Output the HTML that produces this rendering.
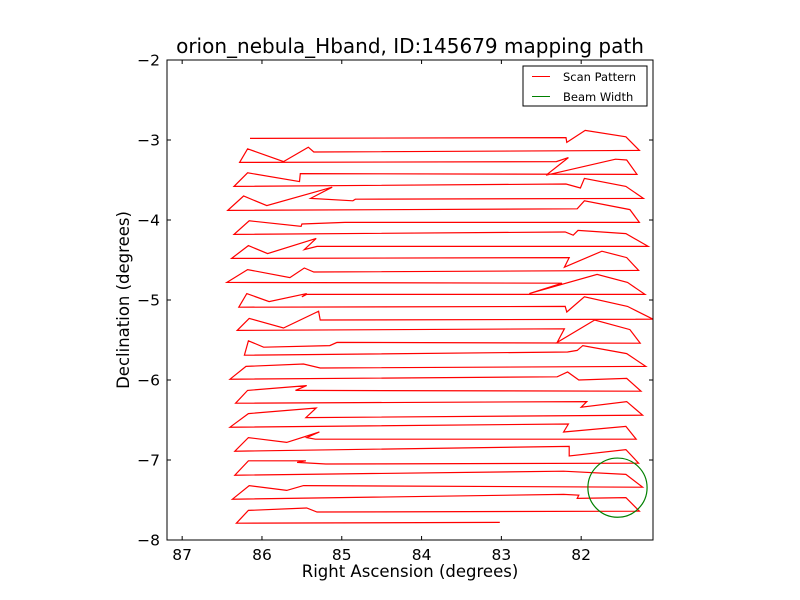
<!DOCTYPE html>
<html><head><meta charset="utf-8"><style>
body{margin:0;background:#fff}
svg{display:block;font-family:"DejaVu Sans","Liberation Sans",sans-serif}
</style></head><body>
<svg id="chart" width="800" height="600" xmlns="http://www.w3.org/2000/svg">
<rect width="800" height="600" fill="#fff"/>
<text x="410" y="53" text-anchor="middle" font-size="20">orion_nebula_Hband, ID:145679 mapping path</text>
<g id="plot"></g>
<rect x="167" y="60" width="486" height="480" fill="none" stroke="#000" stroke-width="1"/>
<text x="410" y="577" text-anchor="middle" font-size="16.5">Right Ascension (degrees)</text>
<text transform="translate(129,300) rotate(-90)" text-anchor="middle" font-size="16.5">Declination (degrees)</text>
<g>
<rect x="523" y="66" width="124" height="40" fill="#fff" stroke="#000" stroke-width="1"/>
<line x1="532" y1="76.5" x2="550" y2="76.5" stroke="red"/>
<text x="563" y="81" font-size="11.5">Scan Pattern</text>
<line x1="532" y1="96.5" x2="550" y2="96.5" stroke="green"/>
<text x="563" y="101" font-size="11.5">Beam Width</text>
</g>
</svg>
<script>
const xTicks = [87, 86, 85, 84, 83, 82];
const yTicks = [-2, -3, -4, -5, -6, -7, -8];
const pathRA = [86.15,82.19,82.18,81.95,81.44,81.27,85.35,85.42,85.73,86.18,86.28,82.31,82.16,82.44,81.57,81.43,81.30,85.52,85.53,86.18,
86.35,82.19,82.01,81.96,81.44,81.22,84.83,84.86,85.39,85.12,85.94,86.23,86.43,82.05,81.96,81.39,81.27,84.96,85.50,85.51,
86.16,86.35,82.20,82.10,82.04,81.44,81.16,85.31,85.47,85.32,85.93,86.17,86.38,82.15,82.21,81.74,81.43,81.28,85.35,85.47,
85.65,86.18,86.44,82.24,82.65,81.80,81.42,81.20,85.44,85.50,85.44,85.91,86.19,86.29,82.20,82.18,81.96,81.42,81.10,85.27,
85.29,85.73,86.16,86.31,82.21,82.30,81.83,81.39,81.26,85.06,85.15,85.98,86.17,86.22,82.17,82.05,81.98,81.43,81.19,85.27,
85.48,86.20,86.40,82.30,82.17,82.03,81.43,81.25,85.58,85.44,86.18,86.33,81.93,82.00,81.43,81.23,85.45,85.32,86.17,86.40,
82.16,82.22,81.44,81.31,85.33,85.44,85.28,85.69,86.17,86.34,82.15,82.15,81.44,81.28,85.20,85.56,85.45,86.17,86.34,82.22,
81.44,81.23,85.48,85.69,86.16,86.37,82.22,82.03,82.05,81.44,81.27,85.31,85.44,86.17,86.32,83.02];
const pathDec = [-2.98,-2.97,-3.03,-2.88,-2.96,-3.13,-3.15,-3.09,-3.27,-3.11,-3.28,-3.27,-3.22,-3.44,-3.24,-3.25,-3.43,-3.42,-3.52,-3.41,
-3.58,-3.55,-3.60,-3.48,-3.58,-3.73,-3.74,-3.76,-3.73,-3.59,-3.82,-3.70,-3.88,-3.86,-3.76,-3.87,-4.03,-4.03,-4.05,-4.08,
-4.01,-4.18,-4.15,-4.19,-4.13,-4.17,-4.33,-4.33,-4.37,-4.23,-4.42,-4.32,-4.48,-4.47,-4.59,-4.39,-4.47,-4.63,-4.65,-4.60,
-4.72,-4.62,-4.78,-4.79,-4.92,-4.68,-4.78,-4.93,-4.93,-4.96,-4.92,-5.02,-4.92,-5.09,-5.08,-5.15,-4.96,-5.08,-5.24,-5.25,
-5.14,-5.35,-5.23,-5.38,-5.36,-5.53,-5.25,-5.37,-5.54,-5.53,-5.57,-5.59,-5.51,-5.69,-5.65,-5.63,-5.57,-5.67,-5.83,-5.85,
-5.80,-5.83,-5.99,-5.96,-5.90,-6.00,-5.98,-6.14,-6.13,-6.07,-6.13,-6.29,-6.27,-6.34,-6.27,-6.44,-6.47,-6.35,-6.42,-6.59,
-6.55,-6.65,-6.58,-6.74,-6.74,-6.72,-6.65,-6.78,-6.72,-6.89,-6.83,-6.95,-6.87,-7.04,-7.05,-7.03,-7.01,-7.01,-7.19,-7.14,
-7.18,-7.34,-7.32,-7.38,-7.32,-7.49,-7.43,-7.44,-7.48,-7.47,-7.64,-7.65,-7.60,-7.63,-7.79,-7.78];
const beamRA = [81.545];
const beamDec = [-7.346];
const beamRadius = [0.37];

const X0 = 167, X1 = 653, Y0 = 60, Y1 = 540;
const xMin = 87.19, xMax = 81.10, yMin = -8, yMax = -2;
function xs(v){ return X0 + (xMin - v) / (xMin - xMax) * (X1 - X0); }
function ys(v){ return Y0 + (yMax - v) / (yMax - yMin) * (Y1 - Y0); }
const NS = 'http://www.w3.org/2000/svg';
const g = document.getElementById('plot');
function mk(tag, attrs){ const e = document.createElementNS(NS, tag); for (const k in attrs) e.setAttribute(k, attrs[k]); return e; }

xTicks.forEach(t => {
  const x = xs(t);
  const a = mk('line', {x1:x, y1:Y1, x2:x, y2:Y1-4, stroke:'#000'});
  
  
  g.appendChild(a);
  const b = mk('line', {x1:x, y1:Y0, x2:x, y2:Y0+4, stroke:'#000'});
  
  
  g.appendChild(b);
  const l = mk('text', {x:x, y:Y1+20, 'text-anchor':'middle', 'font-size':15.5});
  l.textContent = t;
  
  
  g.appendChild(l);
});
yTicks.forEach(t => {
  const y = ys(t);
  const a = mk('line', {x1:X0, y1:y, x2:X0+4, y2:y, stroke:'#000'});
  
  
  g.appendChild(a);
  const b = mk('line', {x1:X1, y1:y, x2:X1-4, y2:y, stroke:'#000'});
  
  
  g.appendChild(b);
  const l = mk('text', {x:X0-7, y:y+5.5, 'text-anchor':'end', 'font-size':15.5});
  l.textContent = '\u2212' + Math.abs(t);
  
  
  g.appendChild(l);
});

const pts = pathRA.map((r, i) => xs(r).toFixed(1) + ',' + ys(pathDec[i]).toFixed(1)).join(' ');
const path = mk('polyline', {points: pts, fill:'none', stroke:'red', 'stroke-width':1.2, 'stroke-linejoin':'miter'});


g.appendChild(path);

const pxPerDeg = (Y1 - Y0) / (yMax - yMin);
const c = mk('circle', {cx: xs(beamRA[0]), cy: ys(beamDec[0]), r: beamRadius[0] * pxPerDeg, fill:'none', stroke:'green', 'stroke-width':1.2});


g.appendChild(c);
</script>
</body></html>
